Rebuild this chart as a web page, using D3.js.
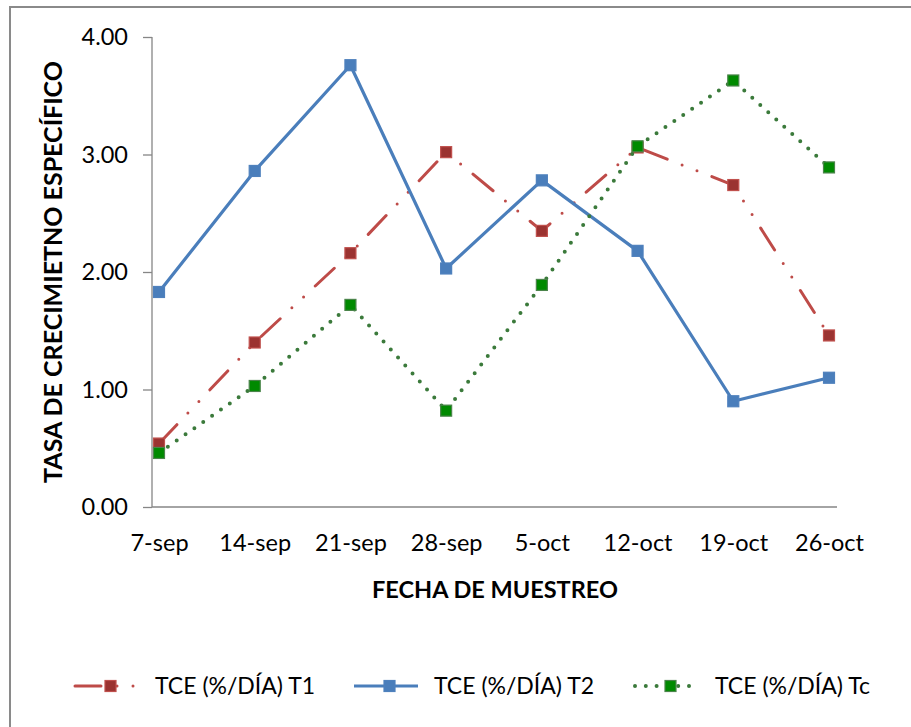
<!DOCTYPE html>
<html>
<head>
<meta charset="utf-8">
<script src="https://cdnjs.cloudflare.com/ajax/libs/d3/7.8.5/d3.min.js"></script>
<style>
  body { margin: 0; background: #fff; }
  text { font-family: Lato, sans-serif; fill: #000; }
  .tick text { font-size: 23.5px; }
  .axis-title { font-weight: bold; }
  .legend text { font-size: 23px; }
</style>
</head>
<body>
<svg id="chart" width="911" height="727"></svg>
<script>
// fechas de muestreo
var fechas = ["7-sep", "14-sep", "21-sep", "28-sep", "5-oct", "12-oct", "19-oct", "26-oct"];
// TCE (%/dia) por tratamiento
var t1 = [0.54, 1.40, 2.16, 3.02, 2.35, 3.06, 2.74, 1.46];
var t2 = [1.83, 2.86, 3.76, 2.03, 2.78, 2.18, 0.90, 1.10];
var tc = [0.46, 1.03, 1.72, 0.82, 1.89, 3.07, 3.63, 2.89];
var yTicks = [0, 1, 2, 3, 4];

var series = [
  {name: "TCE (%/DÍA) T1", values: t1, line: "#BE4B48", fill: "#9B3331", edge: "#C0504D", dash: "26 16 0 16 0 16", cap: "round", w: 3},
  {name: "TCE (%/DÍA) T2", values: t2, line: "#4A7EBB", fill: "#4A7EBB", edge: "#4F81BD", dash: null, cap: "butt", w: 3.2},
  {name: "TCE (%/DÍA) Tc", values: tc, line: "#3B7A3B", fill: "#008A00", edge: "#4A844A", dash: "0 10.8", cap: "round", w: 4}
];

var svg = d3.select("#chart");

// marco exterior
svg.append("rect")
  .attr("x", 10).attr("y", 7)
  .attr("width", 930).attr("height", 740)
  .attr("fill", "none").attr("stroke", "#8a8a8a").attr("stroke-width", 2);

var x = d3.scalePoint().domain(fechas).range([159, 829]);
var y = d3.scaleLinear().domain([0, 4]).range([507, 37]);

// eje y
var yAxis = svg.append("g")
  .attr("transform", "translate(152,0)")
  .call(d3.axisLeft(y).tickValues(yTicks).tickFormat(d3.format(".2f")).tickSize(9).tickPadding(15));
yAxis.selectAll("line, path").attr("stroke", "#868686").attr("stroke-width", 1.3);
yAxis.select("path").attr("d", "M0,37V507");

// eje x
var xAxis = svg.append("g")
  .attr("transform", "translate(0,507)")
  .call(d3.axisBottom(x).tickSize(0).tickPadding(27));
xAxis.select("path").attr("d", "M152,0H837").attr("stroke", "#868686").attr("stroke-width", 1.3);

svg.append("text").attr("class", "axis-title")
  .attr("x", 495).attr("y", 598).attr("text-anchor", "middle")
  .style("font-size", "23.5px")
  .text("FECHA DE MUESTREO");

svg.append("text").attr("class", "axis-title")
  .attr("transform", "translate(62,272) rotate(-90)")
  .attr("text-anchor", "middle")
  .style("font-size", "25px")
  .text("TASA DE CRECIMIETNO ESPECÍFICO");

var line = d3.line()
  .x(function(d, i) { return x(fechas[i]); })
  .y(function(d) { return y(d); });

series.forEach(function(s) {
  var g = svg.append("g");
  g.append("path")
    .attr("d", line(s.values))
    .attr("fill", "none")
    .attr("stroke", s.line)
    .attr("stroke-width", s.w)
    .attr("stroke-linecap", s.cap)
    .attr("stroke-linejoin", "round")
    .attr("stroke-dasharray", s.dash);
  g.selectAll("rect")
    .data(s.values)
    .enter().append("rect")
    .attr("x", function(d, i) { return x(fechas[i]) - 5.5; })
    .attr("y", function(d) { return y(d) - 5.5; })
    .attr("width", 11).attr("height", 11)
    .attr("fill", s.fill)
    .attr("stroke", s.edge).attr("stroke-width", 1.2);
});

// leyenda
var legX = [75, 354, 635];
var legY = 686;
var legend = svg.append("g").attr("class", "legend");
series.forEach(function(s, i) {
  var g = legend.append("g").attr("transform", "translate(" + legX[i] + "," + legY + ")");
  g.append("line")
    .attr("x1", 0).attr("x2", 64).attr("y1", 0).attr("y2", 0)
    .attr("stroke", s.line).attr("stroke-width", s.w)
    .attr("stroke-linecap", s.cap)
    .attr("stroke-dasharray", s.dash);
  g.append("rect")
    .attr("x", 30).attr("y", -5.5).attr("width", 11).attr("height", 11)
    .attr("fill", s.fill).attr("stroke", s.edge).attr("stroke-width", 1.2);
  g.append("text")
    .attr("x", 80).attr("y", 0).attr("dy", "0.36em")
    .text(s.name);
});
</script>
</body>
</html>
